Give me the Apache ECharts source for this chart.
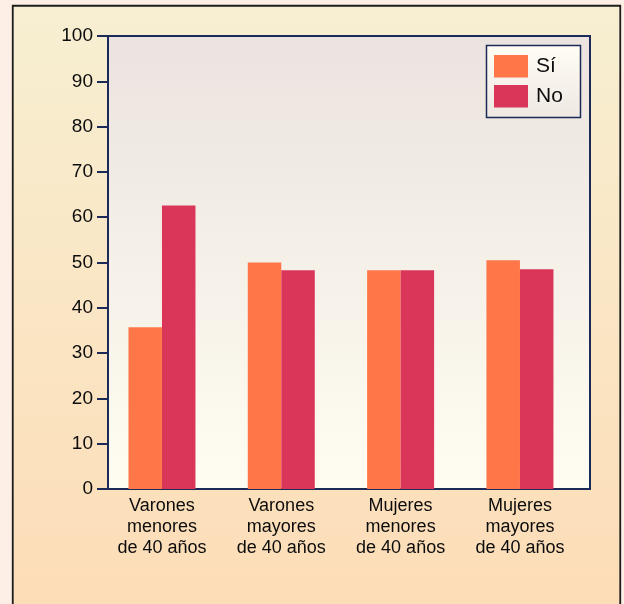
<!DOCTYPE html>
<html>
<head>
<meta charset="utf-8">
<script src="https://cdn.jsdelivr.net/npm/echarts@6/dist/echarts.min.js"></script>
<style>
  html, body { margin: 0; padding: 0; background: #fdeee6; }
  #chart { width: 624px; height: 604px; }
</style>
</head>
<body>
<div id="chart"></div>
<script>
// Groups on the horizontal axis
const categories = [
  'Varones\nmenores\nde 40 años',
  'Varones\nmayores\nde 40 años',
  'Mujeres\nmenores\nde 40 años',
  'Mujeres\nmayores\nde 40 años'
];
// Percentages per answer
const seriesSi = [35.7, 50.0, 48.3, 50.5];
const seriesNo = [62.6, 48.3, 48.3, 48.5];
const seriesNames = ['Sí', 'No'];
// Vertical scale
const yMin = 0;
const yMax = 100;
const yStep = 10;

const FONT = '"Liberation Sans", Arial, Helvetica, sans-serif';
const NAVY = '#1b2a57';
const TEXT = '#0c0c0c';

const chart = echarts.init(document.getElementById('chart'), null, { renderer: 'canvas' });

const option = {
  backgroundColor: '#fdeee6',
  animation: false,
  textStyle: { fontFamily: FONT },
  graphic: [
    {
      // outer panel behind everything
      type: 'rect',
      z: -10,
      shape: { x: 12.75, y: 5.75, width: 607.5, height: 620 },
      style: {
        fill: new echarts.graphic.LinearGradient(0, 0, 0, 1, [
          { offset: 0, color: '#f7efd2' },
          { offset: 1, color: '#fddcb6' }
        ]),
        stroke: '#1c1c1c',
        lineWidth: 1.8
      }
    },
    {
      // legend box
      type: 'rect',
      z: 3,
      shape: { x: 486.5, y: 45.5, width: 94, height: 72 },
      style: {
        fill: new echarts.graphic.LinearGradient(0, 0, 0, 1, [
          { offset: 0, color: '#fffdf4' },
          { offset: 1, color: '#efe8e3' }
        ]),
        stroke: NAVY,
        lineWidth: 1.5
      }
    }
  ],
  legend: {
    z: 5,
    orient: 'vertical',
    left: 494,
    top: 55,
    padding: 0,
    itemWidth: 34,
    itemHeight: 22.5,
    itemGap: 7.5,
    icon: 'rect',
    data: seriesNames,
    textStyle: { fontFamily: FONT, fontSize: 21, color: TEXT, padding: [0, 0, 0, 3] }
  },
  grid: [
    {
      // plot box with y axis
      left: 108, right: 34, top: 36, bottom: 115,
      show: true,
      backgroundColor: new echarts.graphic.LinearGradient(0, 0, 0, 1, [
        { offset: 0, color: '#ebe3df' },
        { offset: 1, color: '#fffdf1' }
      ]),
      borderColor: NAVY,
      borderWidth: 2
    },
    {
      // bar layout
      left: 102.3, right: 44.4, top: 36, bottom: 115
    }
  ],
  xAxis: [
    {
      gridIndex: 0, type: 'category', data: categories,
      axisLine: { show: true, lineStyle: { color: NAVY, width: 2 } },
      axisTick: { show: false }, axisLabel: { show: false }, splitLine: { show: false }
    },
    {
      gridIndex: 1, type: 'category', data: categories,
      axisLine: { show: false }, axisTick: { show: false },
      axisLabel: {
        margin: 7, fontFamily: FONT, fontSize: 18, lineHeight: 21,
        color: TEXT, align: 'center', interval: 0
      }
    }
  ],
  yAxis: [
    {
      gridIndex: 0, type: 'value', min: yMin, max: yMax, interval: yStep,
      axisLine: { show: true, lineStyle: { color: NAVY, width: 2 } },
      axisTick: { show: true, length: 11, lineStyle: { color: NAVY, width: 2 } },
      axisLabel: { margin: 15, fontFamily: FONT, fontSize: 19, color: TEXT },
      splitLine: { show: false }
    },
    {
      gridIndex: 1, type: 'value', min: yMin, max: yMax, interval: yStep,
      show: false, splitLine: { show: false }
    }
  ],
  series: [
    {
      name: seriesNames[0], type: 'bar', xAxisIndex: 1, yAxisIndex: 1,
      data: seriesSi, barWidth: 33.5, barGap: '0%',
      itemStyle: { color: '#ff7748' }
    },
    {
      name: seriesNames[1], type: 'bar', xAxisIndex: 1, yAxisIndex: 1,
      data: seriesNo, barWidth: 33.5, barGap: '0%',
      itemStyle: { color: '#d9365a' }
    }
  ]
};

chart.setOption(option);
</script>
</body>
</html>
